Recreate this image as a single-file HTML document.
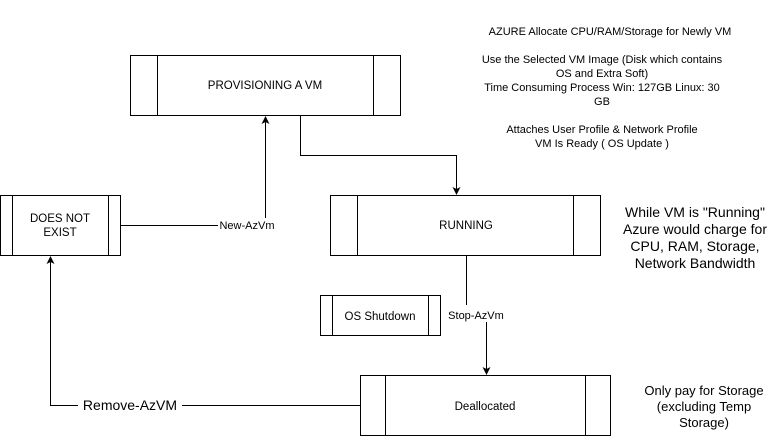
<!DOCTYPE html>
<html><head><meta charset="utf-8"><style>
body{margin:0;background:#fff;}
svg{display:block;font-family:"Liberation Sans",Arial,sans-serif;}
</style></head><body>
<svg width="781" height="441" viewBox="0 0 781 441" xmlns="http://www.w3.org/2000/svg">
<defs><marker id="a" markerWidth="8" markerHeight="8" refX="7" refY="4" orient="auto" markerUnits="userSpaceOnUse"><path d="M0,0 L8,4 L0,8 L2,4 z" fill="#000"/></marker></defs>
<g fill="#fff" stroke="#000" stroke-width="1">
<rect x="130.5" y="55.5" width="270" height="60"/><line x1="157.5" y1="55.5" x2="157.5" y2="115.5"/><line x1="373.5" y1="55.5" x2="373.5" y2="115.5"/>
<rect x="0.5" y="195.5" width="120" height="60"/><line x1="12.5" y1="195.5" x2="12.5" y2="255.5"/><line x1="108.5" y1="195.5" x2="108.5" y2="255.5"/>
<rect x="330.5" y="195.5" width="270" height="60"/><line x1="357.5" y1="195.5" x2="357.5" y2="255.5"/><line x1="573.5" y1="195.5" x2="573.5" y2="255.5"/>
<rect x="320.5" y="295.5" width="120" height="40"/><line x1="332.5" y1="295.5" x2="332.5" y2="335.5"/><line x1="428.5" y1="295.5" x2="428.5" y2="335.5"/>
<rect x="360.5" y="375.5" width="250" height="60"/><line x1="385.5" y1="375.5" x2="385.5" y2="435.5"/><line x1="585.5" y1="375.5" x2="585.5" y2="435.5"/>
</g>
<g fill="none" stroke="#000" stroke-width="1">
<path d="M300.5,115.5 V155.5 H456.5 V194" marker-end="url(#a)"/>
<path d="M120.5,225.5 H218 M265.5,218 V117" marker-end="url(#a)"/>
<path d="M466.5,255.5 V305 M486.5,322 V374" marker-end="url(#a)"/>
<path d="M360.5,405.5 H182 M78,405.5 H50.5 V257" marker-end="url(#a)"/>
</g>
<g font-size="11.5" text-anchor="middle" fill="#000">
<text x="265" y="89">PROVISIONING A VM</text>
<text x="60" y="222">DOES NOT</text><text x="60" y="236">EXIST</text>
<text x="466" y="229">RUNNING</text>
<text x="380" y="320">OS Shutdown</text>
<text x="485" y="410">Deallocated</text>
<text x="247" y="229" font-size="11">New-AzVm</text>
<text x="476" y="319" font-size="11">Stop-AzVm</text>
<text x="130" y="410" font-size="14">Remove-AzVM</text>
<g font-size="11">
<text x="610" y="35">AZURE Allocate CPU/RAM/Storage for Newly VM</text>
<text x="602" y="63">Use the Selected VM Image (Disk which contains</text>
<text x="602" y="77">OS and Extra Soft)</text>
<text x="602" y="91">Time Consuming Process Win: 127GB Linux: 30</text>
<text x="602" y="105">GB</text>
<text x="602" y="133">Attaches User Profile &amp; Network Profile</text>
<text x="602" y="147">VM Is Ready ( OS Update )</text>
</g>
<g font-size="14">
<text x="695" y="217">While VM is "Running"</text>
<text x="695" y="234">Azure would charge for</text>
<text x="695" y="251">CPU, RAM, Storage,</text>
<text x="695" y="268">Network Bandwidth</text>
</g>
<g font-size="13">
<text x="704" y="395">Only pay for Storage</text>
<text x="704" y="411">(excluding Temp</text>
<text x="704" y="427">Storage)</text>
</g>
</g>
</svg>
</body></html>
